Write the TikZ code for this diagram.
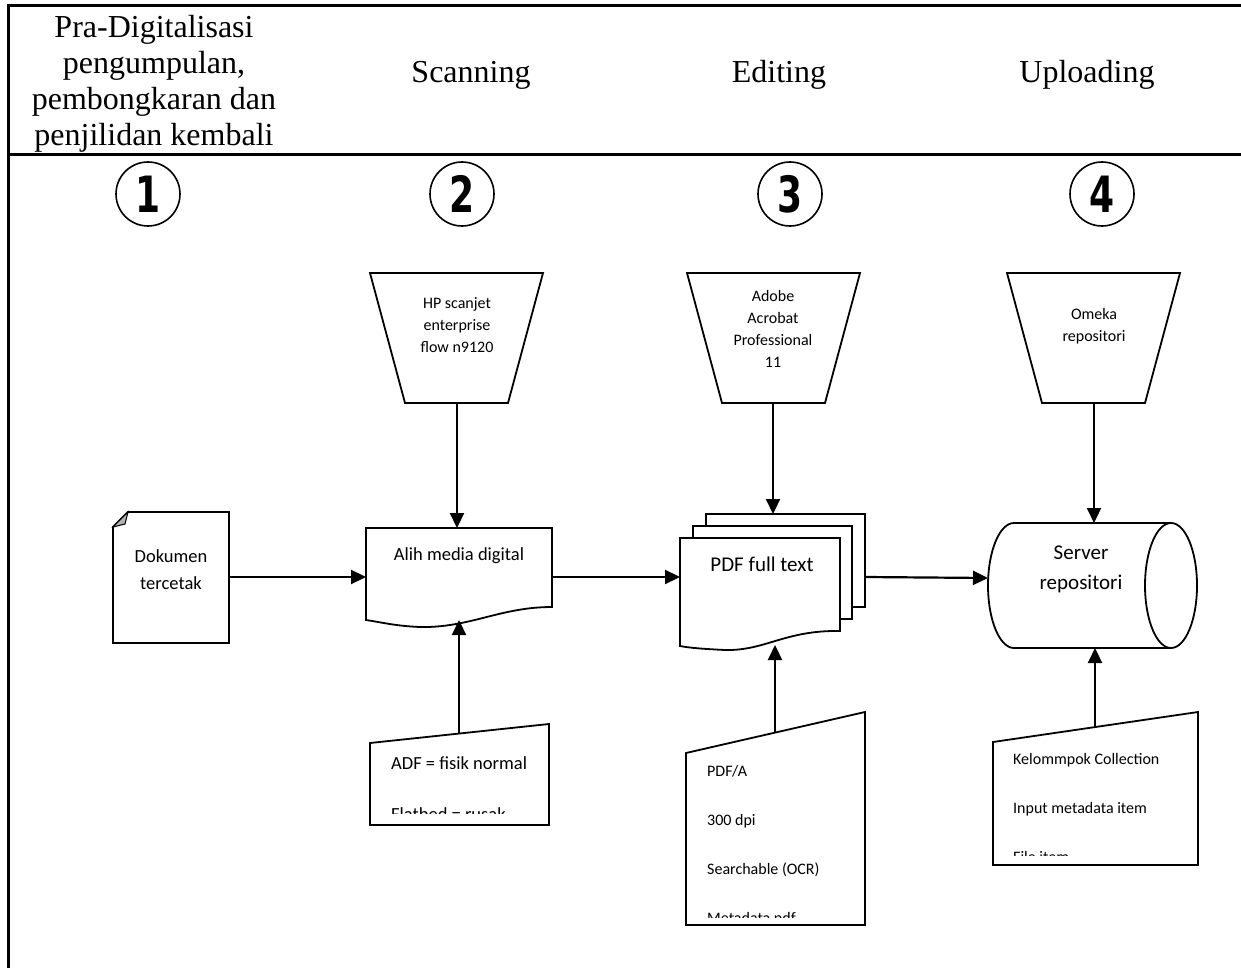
\documentclass[tikz,border=0pt]{standalone}
\usepackage{fontspec}
\setmainfont{Liberation Serif}
\newfontfamily\calfont{Carlito}
\newfontfamily\heavyfont[FakeStretch=0.72]{DejaVu Sans}
\usetikzlibrary{arrows.meta}
\tikzset{
  frameline/.style={line width=3pt},
  shapeline/.style={line width=1.8pt, line join=miter},
  conn/.style={line width=2.2pt, -{Triangle[length=15pt,width=14pt]}},
  headtxt/.style={inner sep=0pt, align=center, font=\fontsize{32}{36}\selectfont},
  numcirc/.style={circle, draw, line width=1.6pt, minimum size=64pt, inner sep=0pt, font=\heavyfont\bfseries\fontsize{50}{50}\selectfont},
  smalltxt/.style={inner sep=0pt, align=center, font=\calfont\fontsize{16}{22}\selectfont},
  midtxt/.style={inner sep=0pt, align=center, font=\calfont\fontsize{18.5}{27}\selectfont},
  bigtxt/.style={inner sep=0pt, align=center, font=\calfont\fontsize{21}{30}\selectfont},
  listtxt/.style={inner sep=0pt, anchor=base west, font=\calfont\fontsize{16}{16}\selectfont},
  listtxtb/.style={inner sep=0pt, anchor=base west, font=\calfont\fontsize{18.5}{18.5}\selectfont},
}
\begin{document}
\begin{tikzpicture}[x=1pt,y=-1pt]
\useasboundingbox (0,0) rectangle (1241,968);
% frame
\draw[frameline] (1241,6) -- (8,6) -- (8,968);
\draw[frameline] (8,155) -- (1241,155);
% headers
\node[headtxt] (h1) at (154,84) {Pra-Digitalisasi\\pengumpulan,\\pembongkaran dan\\penjilidan kembali};
\node[headtxt] (h2) at (471,75) {Scanning};
\node[headtxt] (h3) at (779,75) {Editing};
\node[headtxt] (h4) at (1087,75) {Uploading};
% circles
\node[numcirc] (c1) at (148,194) {1};
\node[numcirc] (c2) at (462,194) {2};
\node[numcirc] (c3) at (790,194) {3};
\node[numcirc] (c4) at (1102,194) {4};
% trapezoids (manual operation)
\draw[shapeline] (370,273) -- (543,273) -- (508,403) -- (405,403) -- cycle;
\draw[shapeline] (687,273) -- (860,273) -- (825,403) -- (722,403) -- cycle;
\draw[shapeline] (1007,273) -- (1180,273) -- (1145,403) -- (1042,403) -- cycle;
\node[smalltxt] (t2) at (457,325) {HP scanjet\\enterprise\\flow n9120};
\node[smalltxt] (t3) at (773,329) {Adobe\\Acrobat\\Professional\\11};
\node[smalltxt] (t4) at (1094,326) {Omeka\\repositori};
\coordinate (t2b) at (457,403);
\coordinate (t3b) at (773,403);
\coordinate (t4b) at (1094,403);
% Dokumen tercetak
\draw[shapeline] (113,527) -- (128,512) -- (229,512) -- (229,643) -- (113,643) -- cycle;
\draw[line width=1pt, fill=gray!60] (113,527) -- (128,512) -- (125,524) -- cycle;
\node[midtxt] (dok) at (171,570) {Dokumen\\tercetak};
\coordinate (dokE) at (229,577);
% Alih media digital
\draw[shapeline] (366,528) -- (552,528) -- (552,607)
  .. controls (500,607) and (470,628) .. (420,627)
  .. controls (395,626) and (380,622) .. (366,620) -- cycle;
\node[midtxt] (alih) at (459,556) {Alih media digital};
\coordinate (alihW) at (366,577);
\coordinate (alihE) at (552,577);
\coordinate (alihN) at (457,528);
\coordinate (alihS) at (459,620);
% PDF full text (multi document)
\draw[shapeline] (706,526) -- (706,514) -- (865,514) -- (865,607) -- (852,607);
\draw[shapeline] (693,538) -- (693,526) -- (852,526) -- (852,619) -- (840,619);
\draw[shapeline] (680,538) -- (840,538) -- (840,631)
  .. controls (785,630) and (765,651) .. (725,650)
  .. controls (705,649) and (690,648) .. (680,646) -- cycle;
\node[bigtxt] (pdf) at (762,564) {PDF full text};
\coordinate (pdfW) at (680,577);
\coordinate (pdfE) at (865,577);
\coordinate (pdfN) at (773,514);
\coordinate (pdfS) at (775,645);
% Server repositori (cylinder)
\draw[shapeline] (1014,523) -- (1171,523);
\draw[shapeline] (1014,648) -- (1171,648);
\draw[shapeline] (1014,523) arc[start angle=-90, end angle=-270, x radius=26, y radius=62.5];
\draw[shapeline] (1171,585.5) ellipse[x radius=26, y radius=62.5];
\node[bigtxt] (srv) at (1081,569) {Server\\repositori};
\coordinate (srvW) at (988,578);
\coordinate (srvN) at (1094,523);
\coordinate (srvS) at (1095,648);
% manual inputs
\draw[shapeline] (370,743) -- (549,724) -- (549,825) -- (370,825) -- cycle;
\begin{scope}
  \clip (372,740) rectangle (547,813);
  \node[listtxtb] (m2a) at (391,769) {ADF = fisik normal};
  \node[listtxtb] (m2b) at (391,820) {Flatbed = rusak};
\end{scope}
\coordinate (m2N) at (459,733);
\draw[shapeline] (686,753) -- (865,712) -- (865,925) -- (686,925) -- cycle;
\begin{scope}
  \clip (688,740) rectangle (863,917);
  \node[listtxt] (m3a) at (707,776) {PDF/A};
  \node[listtxt] (m3b) at (707,825) {300 dpi};
  \node[listtxt] (m3c) at (707,874) {Searchable (OCR)};
  \node[listtxt] (m3d) at (707,923) {Metadata pdf};
\end{scope}
\coordinate (m3N) at (775,732);
\draw[shapeline] (993,742) -- (1198,712) -- (1198,865) -- (993,865) -- cycle;
\begin{scope}
  \clip (995,730) rectangle (1196,855);
  \node[listtxt] (m4a) at (1013,764) {Kelommpok Collection};
  \node[listtxt] (m4b) at (1013,813) {Input metadata item};
  \node[listtxt] (m4c) at (1013,862) {File item};
\end{scope}
\coordinate (m4N) at (1095,726);
% connectors
\draw[conn] (t2b) -- (alihN);
\draw[conn] (t3b) -- (pdfN);
\draw[conn] (t4b) -- (srvN);
\draw[conn] (dokE) -- (alihW);
\draw[conn] (alihE) -- (pdfW);
\draw[conn] (pdfE) -- (srvW);
\draw[conn] (m2N) -- (alihS);
\draw[conn] (m3N) -- (pdfS);
\draw[conn] (m4N) -- (srvS);
\end{tikzpicture}
\end{document}
